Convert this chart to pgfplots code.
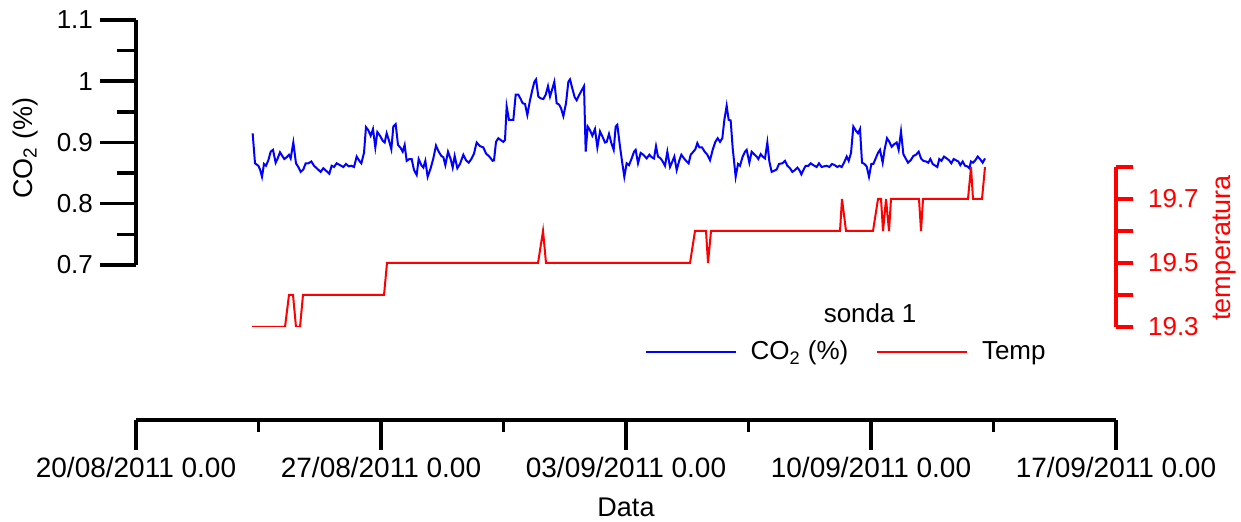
\documentclass[border=0pt]{standalone}
\usepackage{fontspec}
\setmainfont{Liberation Sans}
\usepackage{pgfplots}
\pgfplotsset{compat=1.18}

% 1 px of the reference = 0.5pt
\pgfplotsset{
  common/.style={
    scale only axis, width=490pt, xmin=0, xmax=28, anchor=south west,
    tick align=outside,
    axis line style={-, line width=1.75pt},
    major tick style={black, line width=1.75pt},
    minor tick style={black, line width=1.75pt},
    /pgf/number format/assume math mode=true,
  },
}

\begin{document}
\begin{tikzpicture}
\path[use as bounding box] (0,0) rectangle (620.5pt,261pt);

% CO2 axis (left)
\begin{axis}[common,
  at={(68pt,128.5pt)}, height=122.5pt,
  ymin=0.7, ymax=1.1,
  axis x line=none, axis y line*=left, xtick=\empty,
  ytick={0.7,0.8,0.9,1,1.1}, minor ytick={0.75,0.85,0.95,1.05},
  major tick length=18pt, minor tick length=9.5pt,
  yticklabel style={font=\fontsize{13}{15}\selectfont},
  ylabel={CO\textsubscript{2} (\%)},
  ylabel style={at={(axis description cs:-0.113,0.478)}, anchor=center,
    font=\fontsize{13.5}{16}\selectfont},
]
\addplot[blue, line width=1pt] coordinates {
(3.333,0.915) (3.400,0.866) (3.495,0.862) (3.543,0.856) (3.600,0.844) (3.657,0.865) (3.714,0.862) (3.781,0.871) (3.848,0.885) (3.914,0.888)
(3.990,0.867) (4.048,0.874) (4.114,0.884) (4.181,0.878) (4.238,0.873) (4.305,0.876) (4.371,0.880) (4.419,0.874) (4.495,0.900) (4.571,0.866)
(4.638,0.860) (4.705,0.852) (4.781,0.856) (4.848,0.866) (4.924,0.866) (5.010,0.869) (5.086,0.862) (5.181,0.857) (5.276,0.852) (5.352,0.858)
(5.429,0.854) (5.524,0.849) (5.590,0.862) (5.657,0.860) (5.733,0.866) (5.829,0.863) (5.924,0.860) (6.000,0.865) (6.076,0.861) (6.152,0.862)
(6.229,0.860) (6.305,0.877) (6.381,0.870) (6.438,0.866) (6.514,0.883) (6.571,0.925) (6.638,0.920) (6.705,0.911) (6.771,0.922) (6.838,0.892)
(6.895,0.917) (6.971,0.911) (7.048,0.903) (7.105,0.900) (7.162,0.915) (7.229,0.903) (7.295,0.889) (7.352,0.926) (7.419,0.930) (7.486,0.896)
(7.562,0.891) (7.619,0.885) (7.676,0.896) (7.733,0.870) (7.810,0.873) (7.876,0.873) (7.943,0.855) (8.019,0.847) (8.076,0.873) (8.152,0.863)
(8.210,0.859) (8.267,0.870) (8.333,0.844) (8.419,0.858) (8.495,0.874) (8.571,0.895) (8.648,0.885) (8.724,0.878) (8.781,0.876) (8.838,0.863)
(8.914,0.885) (8.990,0.873) (9.048,0.859) (9.105,0.878) (9.181,0.858) (9.257,0.865) (9.352,0.880) (9.429,0.871) (9.505,0.867) (9.581,0.873)
(9.657,0.882) (9.733,0.900) (9.829,0.894) (9.924,0.892) (10.000,0.882) (10.095,0.877) (10.190,0.870) (10.229,0.871) (10.286,0.901) (10.352,0.907)
(10.419,0.904) (10.495,0.901) (10.543,0.904) (10.590,0.959) (10.657,0.937) (10.714,0.937) (10.781,0.937) (10.848,0.978) (10.924,0.978) (10.990,0.971)
(11.048,0.964) (11.114,0.963) (11.181,0.945) (11.257,0.969) (11.324,0.986) (11.381,0.999) (11.429,1.003) (11.495,0.975) (11.562,0.972) (11.638,0.971)
(11.705,0.978) (11.771,0.992) (11.829,0.975) (11.886,0.986) (11.952,0.999) (12.019,0.964) (12.086,0.962) (12.143,0.956) (12.210,0.943) (12.286,0.964)
(12.352,0.999) (12.400,1.003) (12.467,0.988) (12.533,0.974) (12.590,0.969) (12.667,0.978) (12.733,0.985) (12.800,0.992) (12.848,0.885) (12.905,0.926)
(12.971,0.920) (13.038,0.911) (13.114,0.922) (13.181,0.892) (13.257,0.918) (13.324,0.910) (13.400,0.900) (13.448,0.901) (13.514,0.914) (13.581,0.899)
(13.648,0.888) (13.705,0.926) (13.752,0.929) (13.829,0.893) (13.895,0.866) (13.952,0.844) (14.019,0.866) (14.086,0.863) (14.162,0.874) (14.229,0.885)
(14.276,0.888) (14.343,0.866) (14.419,0.883) (14.495,0.880) (14.590,0.874) (14.667,0.880) (14.733,0.876) (14.800,0.874) (14.857,0.894) (14.914,0.877)
(14.990,0.874) (15.048,0.869) (15.114,0.862) (15.181,0.885) (15.257,0.860) (15.324,0.869) (15.381,0.877) (15.448,0.855) (15.524,0.871) (15.581,0.880)
(15.657,0.874) (15.733,0.869) (15.790,0.866) (15.848,0.880) (15.924,0.885) (15.981,0.889) (16.038,0.899) (16.095,0.892) (16.171,0.892) (16.248,0.885)
(16.324,0.880) (16.400,0.871) (16.476,0.888) (16.552,0.901) (16.619,0.907) (16.686,0.901) (16.752,0.907) (16.810,0.937) (16.876,0.960) (16.933,0.937)
(16.990,0.936) (17.048,0.891) (17.133,0.844) (17.200,0.865) (17.257,0.862) (17.333,0.877) (17.400,0.885) (17.448,0.888) (17.524,0.867) (17.590,0.885)
(17.657,0.881) (17.733,0.877) (17.781,0.873) (17.848,0.881) (17.905,0.877) (17.971,0.874) (18.038,0.900) (18.095,0.869) (18.162,0.852) (18.238,0.854)
(18.305,0.856) (18.371,0.865) (18.467,0.866) (18.543,0.870) (18.610,0.862) (18.686,0.858) (18.752,0.852) (18.829,0.855) (18.895,0.859) (18.952,0.855)
(19.010,0.848) (19.067,0.855) (19.133,0.862) (19.210,0.862) (19.276,0.866) (19.352,0.863) (19.448,0.860) (19.514,0.866) (19.590,0.860) (19.657,0.861)
(19.733,0.862) (19.810,0.860) (19.886,0.865) (19.962,0.863) (20.038,0.860) (20.095,0.862) (20.162,0.860) (20.229,0.867) (20.305,0.877) (20.362,0.870)
(20.429,0.883) (20.495,0.926) (20.571,0.919) (20.629,0.915) (20.686,0.922) (20.743,0.867) (20.810,0.865) (20.876,0.861) (20.943,0.844) (21.010,0.865)
(21.067,0.865) (21.133,0.874) (21.200,0.883) (21.257,0.888) (21.333,0.867) (21.390,0.889) (21.457,0.907) (21.524,0.901) (21.590,0.893) (21.657,0.897)
(21.733,0.900) (21.790,0.888) (21.857,0.918) (21.924,0.881) (21.990,0.874) (22.057,0.867) (22.133,0.871) (22.210,0.878) (22.286,0.880) (22.362,0.885)
(22.429,0.874) (22.495,0.870) (22.571,0.869) (22.638,0.867) (22.695,0.873) (22.762,0.865) (22.838,0.862) (22.895,0.860) (22.952,0.873) (23.010,0.870)
(23.086,0.877) (23.162,0.874) (23.229,0.871) (23.295,0.866) (23.362,0.873) (23.429,0.871) (23.495,0.869) (23.552,0.863) (23.619,0.869) (23.686,0.862)
(23.752,0.861) (23.810,0.858) (23.857,0.869) (23.914,0.867) (23.981,0.871) (24.048,0.877) (24.114,0.873) (24.190,0.867) (24.257,0.874)
};
\end{axis}

% temperature axis (right)
\begin{axis}[common,
  at={(68pt,97.5pt)}, height=80pt,
  ymin=19.3, ymax=19.8,
  axis x line=none, axis y line*=right, xtick=\empty,
  y axis line style={red},
  ytick={19.3,19.5,19.7}, minor ytick={19.4,19.6,19.8},
  major tick length=8.5pt, minor tick length=8.5pt,
  major tick style={red}, minor tick style={red},
  yticklabel style={red, xshift=4pt, font=\fontsize{13}{15}\selectfont},
  ylabel={temperatura},
  ylabel style={red, at={(axis description cs:1.111,0.494)}, anchor=center,
    font=\fontsize{13.5}{16}\selectfont},
  legend columns=2,
  legend cell align=left,
  legend image code/.code={\draw[#1] (0pt,0pt) -- (45pt,0pt);},
  legend style={at={(axis description cs:0.519,-0.156)}, anchor=west,
    draw=none, fill=none, inner sep=0pt,
    font=\fontsize{13}{15}\selectfont,
    /tikz/every odd column/.append style={column sep=5pt},
    /tikz/every even column/.append style={column sep=12pt}},
]
\addlegendimage{blue, line width=0.8pt}
\addlegendentry{CO\textsubscript{2} (\%)}
\addlegendimage{red, line width=0.8pt}
\addlegendentry{Temp}
\addplot[red, line width=1pt, forget plot] coordinates {
(3.314,19.3) (4.257,19.3) (4.371,19.4) (4.486,19.4) (4.571,19.3) (4.686,19.3) (4.771,19.4)
(7.086,19.4) (7.171,19.5) (11.486,19.5) (11.629,19.6) (11.714,19.5)
(15.829,19.5) (15.971,19.6) (16.286,19.6) (16.343,19.5) (16.429,19.6)
(20.114,19.6) (20.171,19.7) (20.286,19.6) (21.057,19.6) (21.200,19.7) (21.286,19.7)
(21.343,19.6) (21.429,19.7) (21.514,19.6) (21.571,19.7) (22.371,19.7) (22.429,19.6)
(22.486,19.7) (23.771,19.7) (23.857,19.8) (23.914,19.7) (24.171,19.7) (24.257,19.8)
};
\node[font=\fontsize{13}{15}\selectfont] at (axis description cs:0.749,0.0875) {sonda 1};
\end{axis}

% date axis (bottom)
\begin{axis}[common,
  at={(68pt,51pt)}, height=10pt,
  ymin=0, ymax=1,
  axis y line=none, axis x line*=bottom, ytick=\empty,
  xtick={0,7,14,21,28}, minor xtick={3.5,10.5,17.5,24.5},
  xticklabels={20/08/2011 0.00, 27/08/2011 0.00, 03/09/2011 0.00, 10/09/2011 0.00, 17/09/2011 0.00},
  major tick length=15pt, minor tick length=6pt,
  xticklabel style={font=\fontsize{14}{16}\selectfont},
  xlabel={Data},
  xlabel style={yshift=-3.5pt, font=\fontsize{13.5}{16}\selectfont},
]
\end{axis}
\end{tikzpicture}
\end{document}
